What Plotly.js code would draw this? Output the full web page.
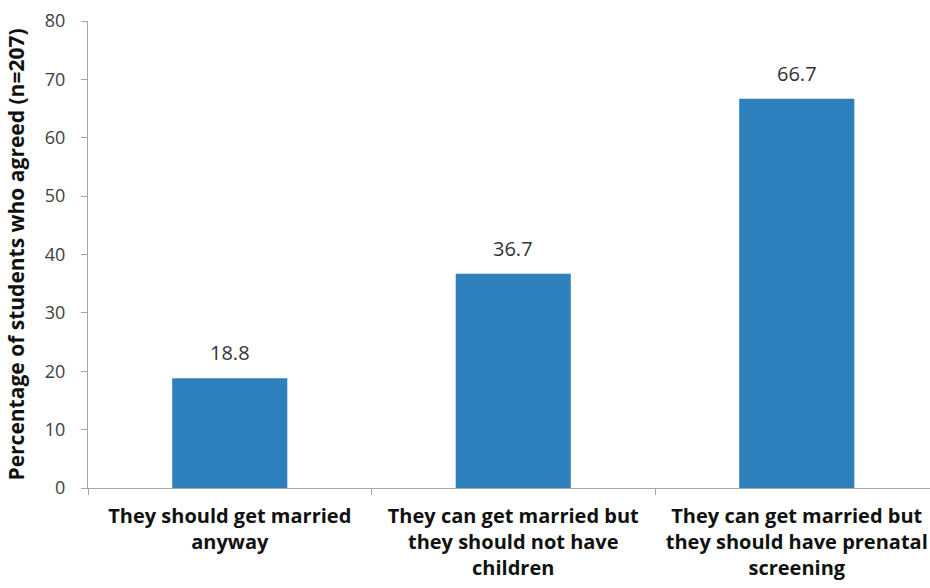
<!DOCTYPE html>
<html>
<head>
<meta charset="utf-8">
<script src="https://cdn.plot.ly/plotly-3.0.1.min.js"></script>
<style>html,body{margin:0;padding:0;background:#fff;}#chart{width:930px;height:588px;}</style>
</head>
<body>
<div id="chart"></div>
<script>
const categories = [
  "They should get married<br>anyway",
  "They can get married but<br>they should not have<br>children",
  "They can get married but<br>they should have prenatal<br>screening"
];
const values = [18.8, 36.7, 66.7];
const valueLabels = ["18.8", "36.7", "66.7"];
const yTicks = [0, 10, 20, 30, 40, 50, 60, 70, 80];
const FONT = "'Open Sans', 'Liberation Sans', sans-serif";

const trace = {
  type: "bar",
  x: categories,
  y: values,
  marker: {color: "#2E80BD"},
  hoverinfo: "none"
};

const annotations = categories.map((c, i) => ({
  x: c, y: values[i], xref: "x", yref: "y",
  text: valueLabels[i], showarrow: false,
  yanchor: "bottom", yshift: 10,
  font: {family: FONT, size: 20, color: "#333333"}
}));

const layout = {
  width: 930, height: 588,
  margin: {l: 88, r: 0, t: 21, b: 100},
  paper_bgcolor: "#ffffff", plot_bgcolor: "#ffffff",
  showlegend: false,
  bargap: 0.594,
  font: {family: FONT, color: "#333333"},
  annotations: annotations,
  xaxis: {
    type: "category",
    range: [-0.5, 2.47],
    showline: true, linecolor: "#a6a6a6", linewidth: 1,
    ticks: "outside", tickson: "boundaries", ticklen: 6, tickcolor: "#a6a6a6",
    ticklabelstandoff: 10,
    tickfont: {family: FONT, size: 20, color: "#111111", weight: "bold"},
    showgrid: false, zeroline: false, fixedrange: true
  },
  yaxis: {
    range: [0, 80],
    tickvals: yTicks,
    ticktext: yTicks.map(String),
    showline: true, linecolor: "#a6a6a6", linewidth: 1,
    ticks: "outside", ticklen: 6, tickcolor: "#a6a6a6",
    ticklabelstandoff: 12,
    tickfont: {family: FONT, size: 18, color: "#404040"},
    showgrid: false, zeroline: false,
    title: {text: "Percentage of students who agreed (n=207)", standoff: 14,
            font: {family: FONT, size: 21, color: "#111111", weight: "bold"}},
    fixedrange: true
  }
};

Plotly.newPlot("chart", [trace], layout, {displayModeBar: false, staticPlot: true});
</script>
</body>
</html>
